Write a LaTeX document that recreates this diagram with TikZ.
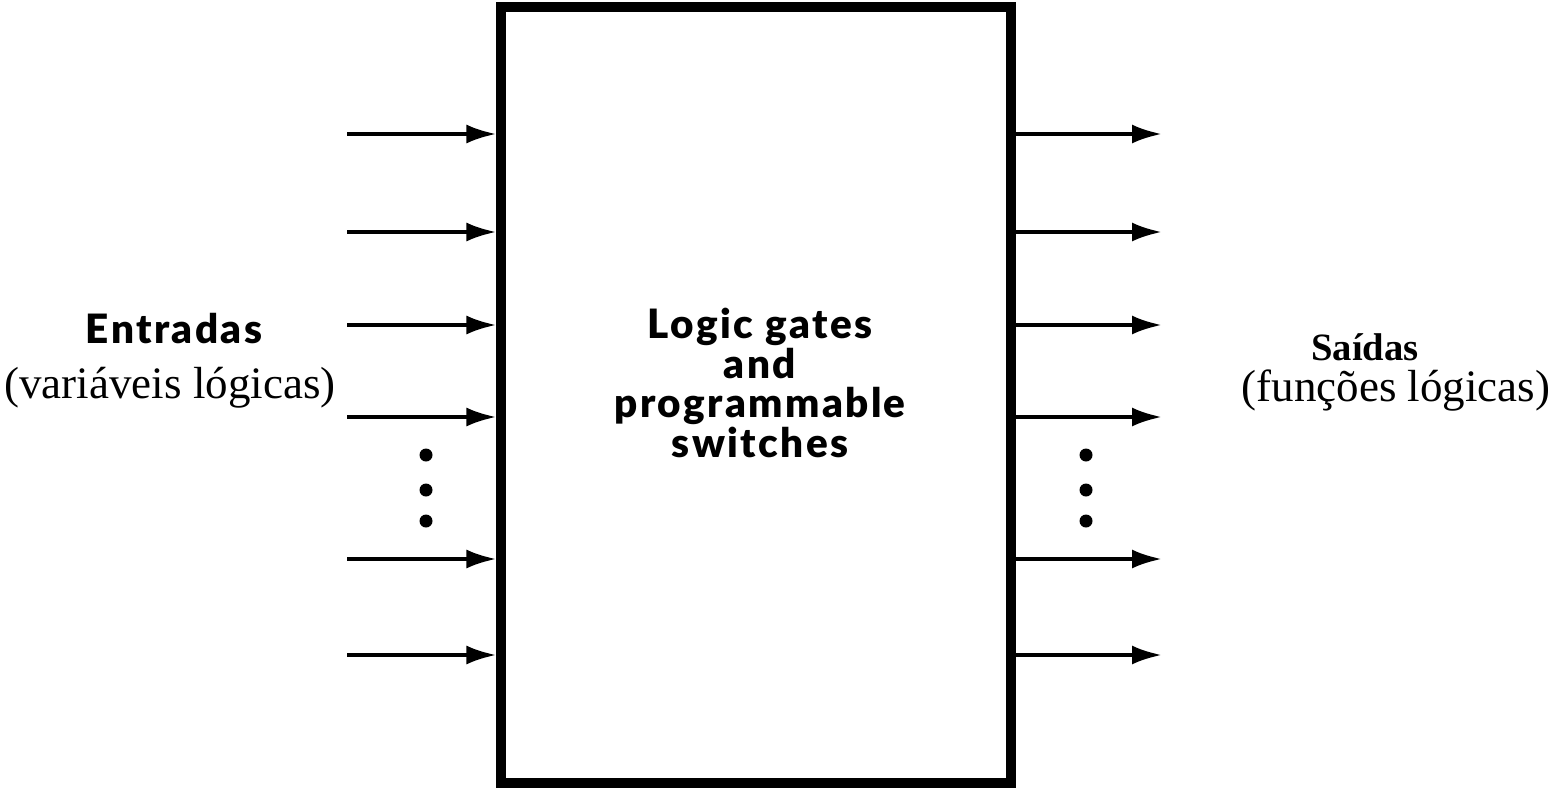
\documentclass[tikz,border=0pt]{standalone}
\usepackage{fontspec}
\setmainfont{Liberation Serif}
\newfontfamily\heavyfont[LetterSpace=6]{Lato Black}
\usetikzlibrary{arrows.meta}

\begin{document}
\begin{tikzpicture}[
  block/.style={
    draw=black,
    line width=2.6pt,
    minimum width=5.1cm,
    minimum height=7.76cm,
    inner sep=0pt
  },
  heavy/.style={font=\heavyfont\fontsize{11.5}{11.2}\selectfont, align=center},
  serif/.style={font=\fontsize{12.8}{14}\selectfont, inner sep=0pt},
  sig/.style={-{Latex[length=0.3cm,width=0.19cm]}, line width=1.1pt},
  dot/.style={circle, fill=black, inner sep=0pt, minimum size=0.13cm},
]

% Canvas.
\useasboundingbox (0,0) rectangle (15.64,7.87);

% The programmable block.
\node[block] (core) at (7.56,3.92) {};
\node[heavy] (label) at (7.60,4.04) {Logic gates\\and\\programmable\\switches};

% Inputs.
\node[heavy] (entradas) at (1.74,4.58) {Entradas};
\node[serif] (varlog) at (1.70,3.99) {(variáveis lógicas)};

\coordinate (in1) at (3.47,6.53);
\coordinate (in2) at (3.47,5.55);
\coordinate (in3) at (3.47,4.62);
\coordinate (in4) at (3.47,3.70);
\coordinate (in5) at (3.47,2.28);
\coordinate (in6) at (3.47,1.32);

\draw[sig] (in1) -- (in1 -| core.west);
\draw[sig] (in2) -- (in2 -| core.west);
\draw[sig] (in3) -- (in3 -| core.west);
\draw[sig] (in4) -- (in4 -| core.west);
\draw[sig] (in5) -- (in5 -| core.west);
\draw[sig] (in6) -- (in6 -| core.west);

\node[dot] (ldot1) at (4.26,3.32) {};
\node[dot] (ldot2) at (4.26,2.97) {};
\node[dot] (ldot3) at (4.26,2.66) {};

% Outputs.
\node[font=\bfseries\fontsize{11}{13}\selectfont, inner sep=0pt] (saidas) at (13.65,4.40) {Saídas};
\node[serif] (funlog) at (13.96,3.96) {(funções lógicas)};

\coordinate (out1) at (11.62,6.53);
\coordinate (out2) at (11.62,5.55);
\coordinate (out3) at (11.62,4.62);
\coordinate (out4) at (11.62,3.70);
\coordinate (out5) at (11.62,2.28);
\coordinate (out6) at (11.62,1.32);

\draw[sig] (out1 -| core.east) -- (out1);
\draw[sig] (out2 -| core.east) -- (out2);
\draw[sig] (out3 -| core.east) -- (out3);
\draw[sig] (out4 -| core.east) -- (out4);
\draw[sig] (out5 -| core.east) -- (out5);
\draw[sig] (out6 -| core.east) -- (out6);

\node[dot] (rdot1) at (10.86,3.32) {};
\node[dot] (rdot2) at (10.86,2.97) {};
\node[dot] (rdot3) at (10.86,2.66) {};

\end{tikzpicture}
\end{document}
